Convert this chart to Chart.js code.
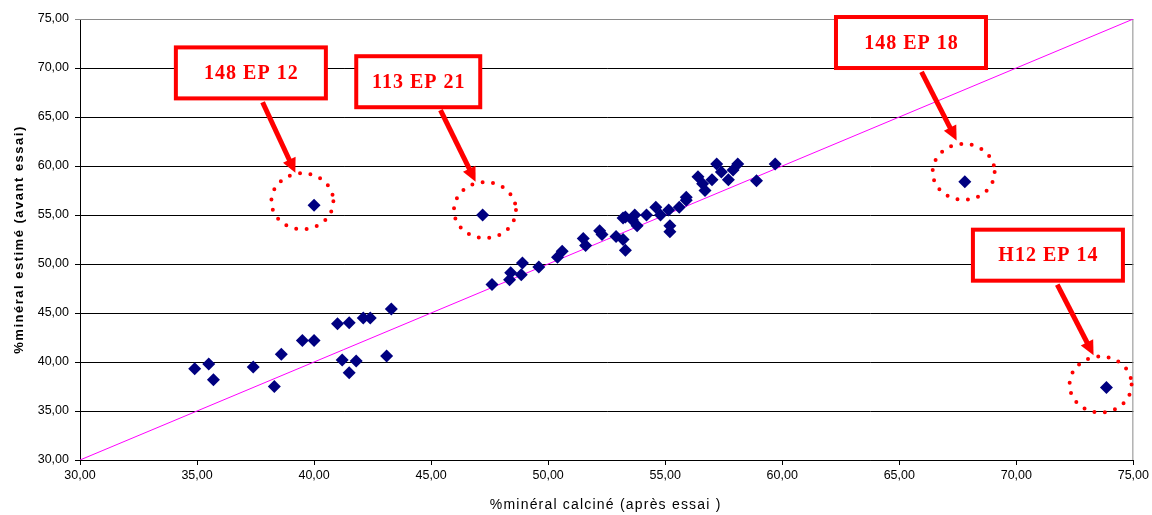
<!DOCTYPE html>
<html>
<head>
<meta charset="utf-8">
<title>%minéral estimé / calciné</title>
<script src="https://cdn.jsdelivr.net/npm/chart.js"></script>
<style>
    body { margin: 0; background: #fff; }
    .chart-container { width: 1152px; height: 515px; position: relative; }
</style>
</head>
<body>
<div class="chart-container">
    <canvas id="scatterChart"></canvas>
</div>
<script>
// points mesurés : %minéral calciné (x) / %minéral estimé (y)
const xValues = [
    34.9, 35.5, 35.7, 37.4, 38.3, 38.6, 39.5, 40.0, 41.0, 41.2, 41.5, 41.5, 41.8, 42.1, 42.4, 43.1, 43.3,
    40.0, 47.2, 67.8, 73.85,
    47.6, 48.35, 48.4, 48.9, 48.85, 49.6, 50.4, 50.6, 51.5, 51.6, 52.2, 52.3, 52.9, 53.2, 53.3,
    53.2, 53.3, 53.7, 53.8, 53.6, 54.2, 54.6, 54.8, 55.2, 55.2, 55.15, 55.6, 55.9, 55.9,
    56.4, 56.6, 56.7, 57.0, 57.2, 57.4, 57.7, 57.9, 58.1, 58.9, 59.7
];
const yValues = [
    39.3, 39.8, 38.2, 39.5, 37.5, 40.8, 42.2, 42.2, 43.9, 40.2, 44.0, 38.9, 40.1, 44.5, 44.5, 40.6, 45.4,
    56.0, 55.0, 58.4, 37.4,
    47.9, 48.4, 49.1, 50.1, 48.9, 49.7, 50.7, 51.3, 52.6, 51.9, 53.4, 53.0, 52.8, 52.5, 51.4,
    54.7, 54.8, 55.0, 53.9, 54.5, 55.0, 55.8, 55.0, 53.9, 53.3, 55.5, 55.8, 56.5, 56.8,
    58.9, 58.2, 57.5, 58.6, 60.2, 59.4, 58.6, 59.6, 60.2, 58.5, 60.2
];
// droite y = x
const lineX = [30, 75];
const lineY = [30, 75];
// échantillons signalés
const calloutLabels = ['148 EP 12', '113 EP 21', '148 EP 18', 'H12 EP 14'];
const xTitle = '%minéral calciné (après essai )';
const yTitle = '%minéral estimé (avant essai)';

const scatterData = xValues.map((x, i) => ({ x: x, y: yValues[i] }));
const lineData = lineX.map((x, i) => ({ x: x, y: lineY[i] }));

function formatTick(v) {
    return v.toFixed(2).replace('.', ',');
}

// positions des encadrés en coordonnées du graphique
const callouts = [
    { box: [37.3, 69.5], w: 150, from: [37.8, 66.5], to: [39.2, 59.3], circle: [39.5, 56.4] },
    { box: [44.45, 68.6], w: 124, from: [45.4, 65.7], to: [46.9, 58.4], circle: [47.3, 55.5] },
    { box: [65.5, 72.6], w: 150, from: [65.95, 69.6], to: [67.45, 62.6], circle: [67.75, 59.4] },
    { box: [71.35, 50.9], w: 150, from: [71.75, 47.9], to: [73.3, 40.7], circle: [73.6, 37.7] }
];

const FONT = '"Liberation Sans", Arial, sans-serif';

const calloutPlugin = {
    id: 'callouts',
    beforeDatasetsDraw(chart) {
        // cadre gris de la zone de tracé (haut et droite)
        const a = chart.chartArea;
        const ctx = chart.ctx;
        ctx.save();
        ctx.strokeStyle = '#8a8a8a';
        ctx.lineWidth = 1;
        ctx.beginPath();
        ctx.moveTo(a.left, a.top + 0.5);
        ctx.lineTo(a.right - 0.5, a.top + 0.5);
        ctx.lineTo(a.right - 0.5, a.bottom);
        ctx.stroke();
        ctx.restore();
    },
    afterDatasetsDraw(chart) {
        const ctx = chart.ctx;
        const xs = chart.scales.x, ys = chart.scales.y;
        const px = v => xs.getPixelForValue(v);
        const py = v => ys.getPixelForValue(v);
        ctx.save();
        callouts.forEach((c, i) => {
            // cercle pointillé
            ctx.strokeStyle = '#ff0000';
            ctx.lineWidth = 4;
            ctx.lineCap = 'round';
            ctx.setLineDash([0, 10.5]);
            ctx.beginPath();
            ctx.ellipse(px(c.circle[0]), py(c.circle[1]), 31, 28, 0, 0, Math.PI * 2);
            ctx.stroke();
            ctx.setLineDash([]);

            // flèche
            const x0 = px(c.from[0]), y0 = py(c.from[1]);
            const x1 = px(c.to[0]), y1 = py(c.to[1]);
            const ang = Math.atan2(y1 - y0, x1 - x0);
            const head = 16;
            ctx.lineCap = 'butt';
            ctx.lineWidth = 5;
            ctx.beginPath();
            ctx.moveTo(x0, y0);
            ctx.lineTo(x1 - Math.cos(ang) * head * 0.8, y1 - Math.sin(ang) * head * 0.8);
            ctx.stroke();
            ctx.fillStyle = '#ff0000';
            ctx.beginPath();
            ctx.moveTo(x1, y1);
            ctx.lineTo(x1 - head * Math.cos(ang - 0.45), y1 - head * Math.sin(ang - 0.45));
            ctx.lineTo(x1 - head * Math.cos(ang + 0.45), y1 - head * Math.sin(ang + 0.45));
            ctx.closePath();
            ctx.fill();

            // encadré
            const bw = c.w, bh = 51;
            const bx = px(c.box[0]) - bw / 2, by = py(c.box[1]) - bh / 2;
            ctx.fillStyle = '#ffffff';
            ctx.fillRect(bx, by, bw, bh);
            ctx.lineWidth = 4;
            ctx.strokeStyle = '#ff0000';
            ctx.strokeRect(bx, by, bw, bh);
            ctx.fillStyle = '#ff0000';
            ctx.font = 'bold 20px "Liberation Serif", "Times New Roman", serif';
            ctx.letterSpacing = '1px';
            ctx.textAlign = 'center';
            ctx.textBaseline = 'middle';
            ctx.fillText(calloutLabels[i], bx + bw / 2 + 0.5, by + bh / 2 + 1);
            ctx.letterSpacing = '0px';
        });
        ctx.restore();
    },
    afterDraw(chart) {
        // titres des axes (espacement des lettres comme dans Excel)
        const ctx = chart.ctx;
        const a = chart.chartArea;
        ctx.save();
        ctx.fillStyle = '#000';
        ctx.textAlign = 'center';
        ctx.textBaseline = 'middle';
        ctx.font = '14px ' + FONT;
        ctx.letterSpacing = '1.2px';
        ctx.fillText(xTitle, (a.left + a.right) / 2 - 1, 505);
        ctx.translate(19, (a.top + a.bottom) / 2 + 0);
        ctx.rotate(-Math.PI / 2);
        ctx.font = 'bold 13px ' + FONT;
        ctx.letterSpacing = '1.5px';
        ctx.fillText(yTitle, 0, 0);
        ctx.restore();
    }
};

const ctx = document.getElementById('scatterChart').getContext('2d');
new Chart(ctx, {
    type: 'scatter',
    data: {
        datasets: [
            {
                label: 'Mesures',
                data: scatterData,
                pointStyle: 'rectRot',
                pointRadius: 6.5,
                pointHoverRadius: 6.5,
                backgroundColor: '#000080',
                borderWidth: 0
            },
            {
                label: 'y = x',
                type: 'line',
                data: lineData,
                borderColor: '#ff00ff',
                borderWidth: 1,
                pointRadius: 0,
                fill: false
            }
        ]
    },
    options: {
        responsive: true,
        maintainAspectRatio: false,
        animation: false,
        layout: { padding: { top: 19, right: 17, left: 0, bottom: 0 } },
        plugins: {
            legend: { display: false },
            tooltip: { enabled: false }
        },
        scales: {
            x: {
                type: 'linear',
                min: 30,
                max: 75,
                afterFit: s => { s.height = 55; },
                ticks: {
                    stepSize: 5,
                    callback: formatTick,
                    color: '#000',
                    padding: 3,
                    maxRotation: 0,
                    font: { family: FONT, size: 12.5 }
                },
                grid: { drawOnChartArea: false, color: '#000', tickLength: 5 },
                border: { color: '#000', width: 1 }
            },
            y: {
                type: 'linear',
                min: 30,
                max: 75,
                afterFit: s => { s.width = 80; },
                ticks: {
                    stepSize: 5,
                    callback: formatTick,
                    color: '#000',
                    padding: 6,
                    font: { family: FONT, size: 12.5 }
                },
                grid: {
                    color: ctx => ctx.tick && ctx.tick.value === 75 ? '#8a8a8a' : '#000',
                    lineWidth: 1,
                    tickLength: 5
                },
                border: { color: '#000', width: 1 }
            }
        }
    },
    plugins: [calloutPlugin]
});
</script>
</body>
</html>
